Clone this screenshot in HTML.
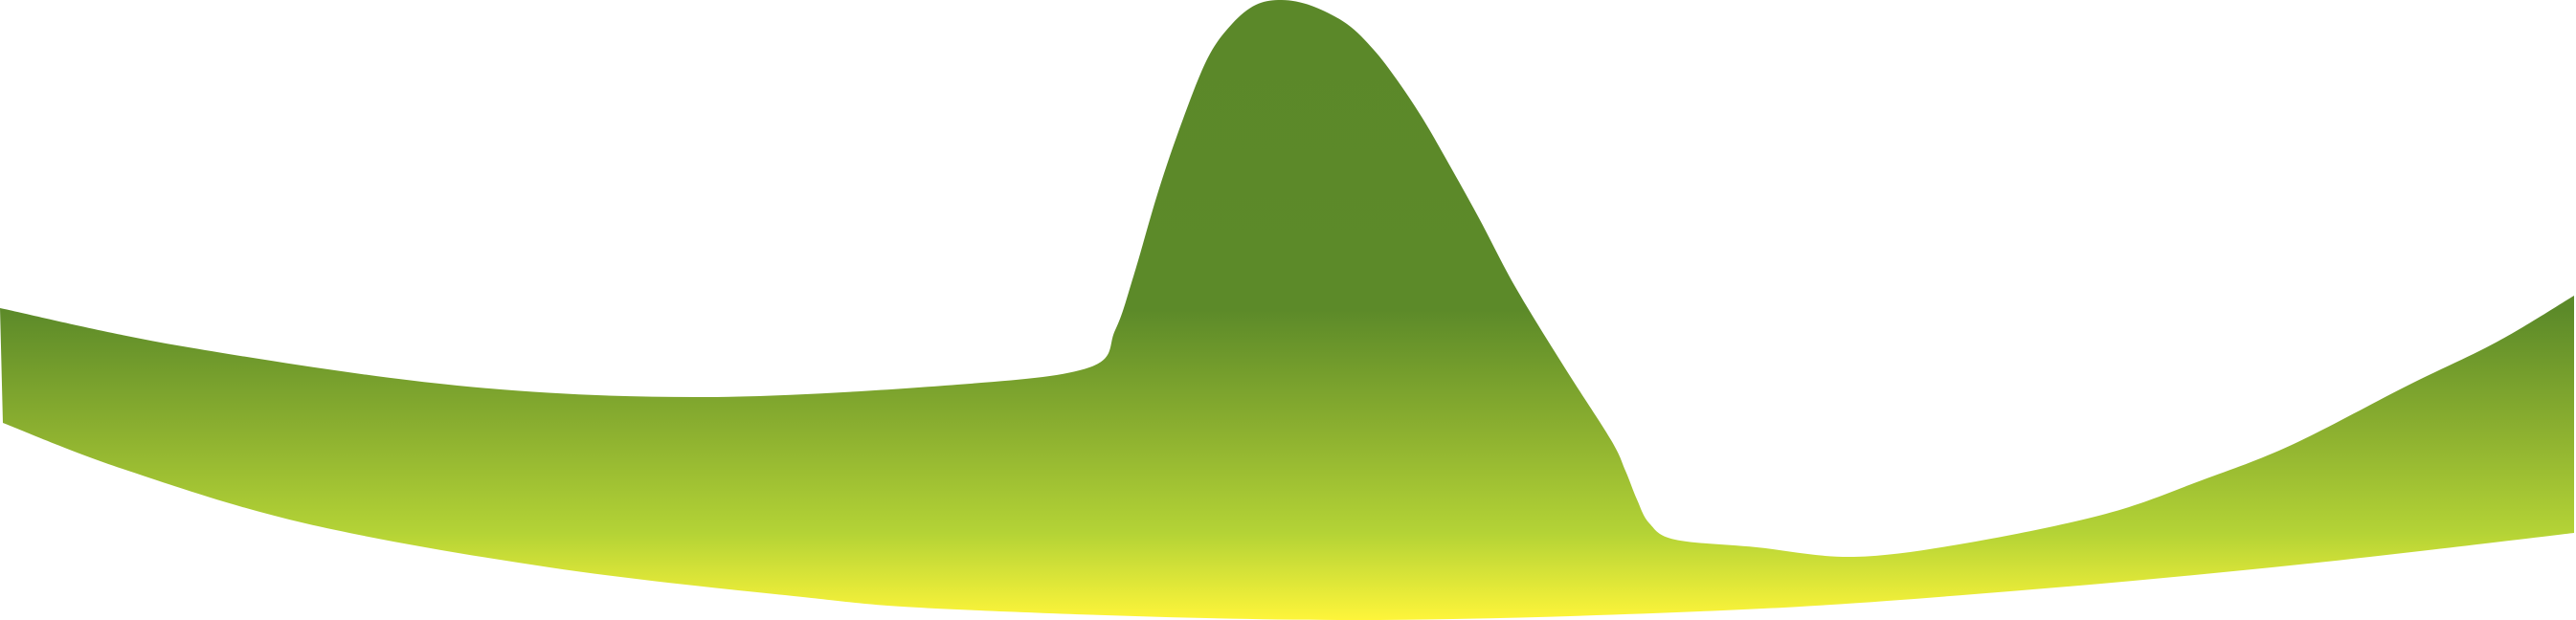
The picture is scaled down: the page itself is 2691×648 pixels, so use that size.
<!DOCTYPE html>
<html><head><meta charset="utf-8"><style>
html,body{margin:0;padding:0;background:#fff;width:2691px;height:648px;overflow:hidden}
svg{display:block}
</style></head><body>
<svg id="s" width="2691" height="648" viewBox="0 0 2691 648">
<defs><linearGradient id="g" x1="0" y1="0" x2="0" y2="648" gradientUnits="userSpaceOnUse">
<stop offset="0" stop-color="#5b8829"/><stop offset="0.5" stop-color="#5c8a29"/>
<stop offset="0.7" stop-color="#8db130"/><stop offset="0.86" stop-color="#b4d336"/>
<stop offset="1" stop-color="#fef53a"/></linearGradient></defs>
<path id="p" fill="url(#g)"/>
</svg>
<script>
const topPts=[[0,322],[191,362],[478,403],[734,415],[1000,402],[1138,384],[1165,345],[1184,289],[1210,200],[1236,124],[1262,60],[1287,25],[1312,5],[1339,0],[1370,6],[1407,25],[1435,52],[1459,83],[1485,122],[1510,165],[1545,228],[1583,300],[1635,385],[1683,460],[1698,492],[1710,522],[1723,547],[1750,564],[1835,572],[1937,582],[2058,567],[2200,537],[2300,502],[2394,465],[2515,403],[2609,357],[2689,309]];
const botPts=[[2689,557],[2402,590],[2100,618],[1800,638],[1400,648],[1000,637],[829,623],[574,593],[319,547],[128,490],[3,442]];
function cr(pts){let d='M'+pts[0][0]+','+pts[0][1];
for(let i=0;i<pts.length-1;i++){const p0=pts[i-1]||pts[i],p1=pts[i],p2=pts[i+1],p3=pts[i+2]||p2;
d+=' C'+(p1[0]+(p2[0]-p0[0])/6)+','+(p1[1]+(p2[1]-p0[1])/6)+' '+(p2[0]-(p3[0]-p1[0])/6)+','+(p2[1]-(p3[1]-p1[1])/6)+' '+p2[0]+','+p2[1];}
return d;}
let d=cr(topPts)+' L'+botPts[0][0]+','+botPts[0][1]+cr(botPts).replace(/^M[^ ]+/,'')+' Z';
document.getElementById('p').setAttribute('d',d);
</script>
</body></html>
